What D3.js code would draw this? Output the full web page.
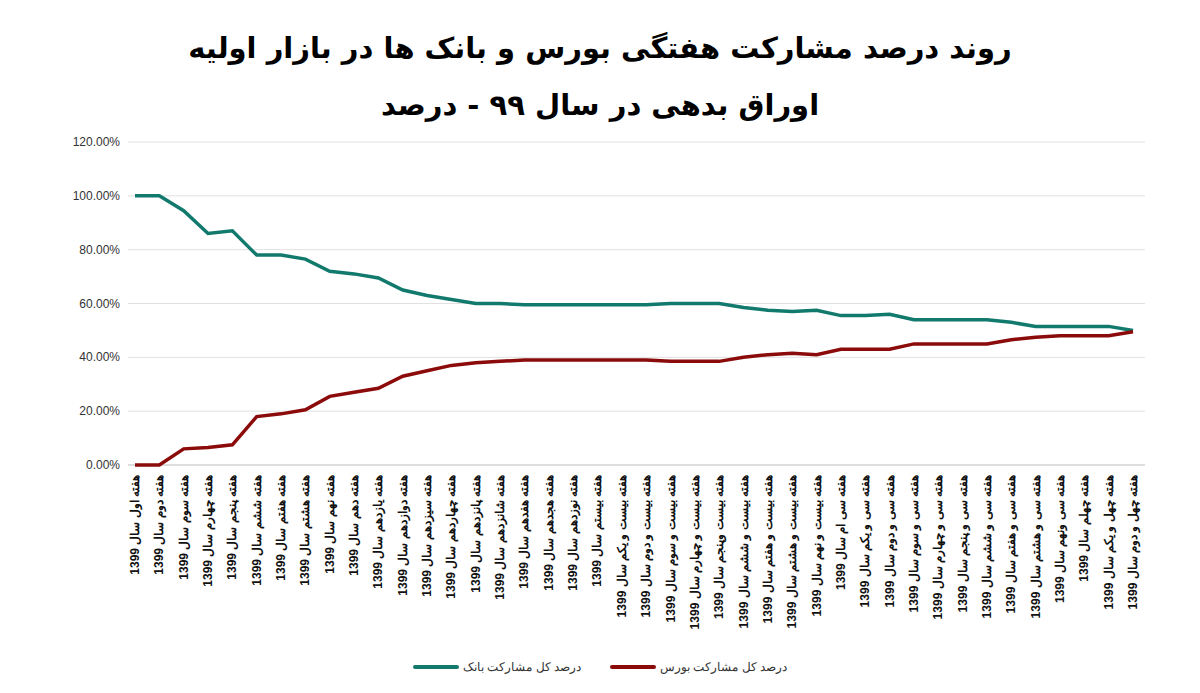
<!DOCTYPE html><html><head><meta charset="utf-8"><script src="https://d3js.org/d3.v7.min.js"></script>
<style>body{margin:0;background:#fff}</style></head><body><svg id="c" width="1200" height="693"></svg>
<script>
const ordinals=["اول","دوم","سوم","چهارم","پنجم","ششم","هفتم","هشتم","نهم","دهم","یازدهم","دوازدهم","سیزدهم","چهاردهم","پانزدهم","شانزدهم","هفدهم","هجدهم","نوزدهم","بیستم","بیست و یکم","بیست و دوم","بیست و سوم","بیست و چهارم","بیست وپنجم","بیست و ششم","بیست و هفتم","بیست و هشتم","بیست و نهم","سی ام","سی و یکم","سی و دوم","سی و سوم","سی و چهارم","سی و پنجم","سی و ششم","سی و هفتم","سی و هشتم","سی ونهم","چهلم","چهل و یکم","چهل و دوم"];
const categories=ordinals.map(o=>"هفته "+o+" سال 1399");
const bank=[100,100,94.5,86,87,78,78,76.5,72,71,69.5,65,63,61.5,60,60,59.5,59.5,59.5,59.5,59.5,59.5,60,60,60,58.5,57.5,57,57.5,55.5,55.5,56,54,54,54,54,53,51.5,51.5,51.5,51.5,50];
const bourse=[0,0,6,6.5,7.5,18,19,20.5,25.5,27,28.5,33,35,37,38,38.5,39,39,39,39,39,39,38.5,38.5,38.5,40,41,41.5,41,43,43,43,45,45,45,45,46.5,47.5,48,48,48,49.5];
const yTicks=[0,20,40,60,80,100,120];
const svg=d3.select("#c");
const x=d3.scalePoint().domain(categories).range([135,1133]);
const y=d3.scaleLinear().domain([0,120]).range([465,142]);
const font="Arial, 'Liberation Sans', sans-serif";
svg.append("text").attr("x",600).attr("y",58).attr("text-anchor","middle").attr("font-family","'DejaVu Sans',sans-serif").attr("font-weight","bold").attr("font-size",29).attr("direction","rtl").text("روند درصد مشارکت هفتگی بورس و بانک ها در بازار اولیه");
svg.append("text").attr("x",600).attr("y",115).attr("text-anchor","middle").attr("font-family","'DejaVu Sans',sans-serif").attr("font-weight","bold").attr("font-size",29).attr("direction","rtl").text("اوراق بدهی در سال ۹۹ - درصد");
const g=svg.append("g");
yTicks.forEach(t=>{
 g.append("line").attr("x1",128).attr("x2",1145).attr("y1",y(t)).attr("y2",y(t)).attr("stroke",t===0?"#bbb":"#e0e0e0").attr("stroke-width",1);
 g.append("text").attr("x",120).attr("y",y(t)+4).attr("text-anchor","end").attr("font-family",font).attr("font-size",12).attr("fill","#333").text(t.toFixed(2)+"%");
});
categories.forEach(c=>{
 g.append("text").attr("transform",`translate(${x(c)+4},475) rotate(-90)`).attr("text-anchor","end").attr("font-family",font).attr("font-size",12).attr("font-weight","bold").attr("fill","#111").text(c);
});
const line=d3.line().x((d,i)=>x(categories[i])).y(d=>y(d));
g.append("path").datum(bank).attr("d",line).attr("fill","none").attr("stroke","#12796d").attr("stroke-width",3.5);
g.append("path").datum(bourse).attr("d",line).attr("fill","none").attr("stroke","#8b0a0a").attr("stroke-width",3.5);
const leg=[{t:"درصد کل مشارکت بانک",c:"#12796d",x:415},{t:"درصد کل مشارکت بورس",c:"#8b0a0a",x:612}];
leg.forEach(l=>{
 svg.append("line").attr("x1",l.x).attr("x2",l.x+42).attr("y1",667).attr("y2",667).attr("stroke",l.c).attr("stroke-width",4).attr("stroke-linecap","round");
 svg.append("text").attr("x",l.x+48).attr("y",671).attr("font-family",font).attr("font-size",12).attr("fill","#333").text(l.t);
});
</script></body></html>
